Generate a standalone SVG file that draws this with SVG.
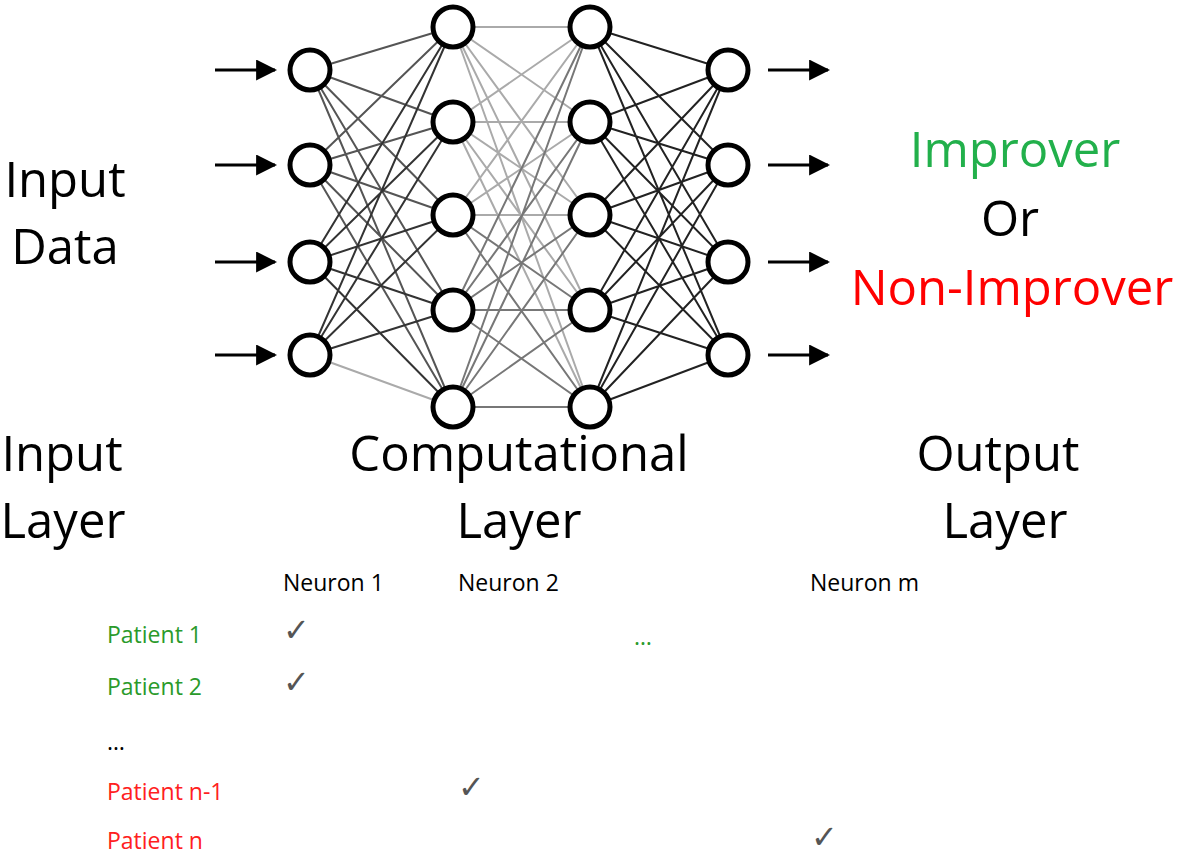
<svg xmlns="http://www.w3.org/2000/svg" width="1182" height="856" viewBox="0 0 1182 856">
<style>
.n{fill:#fff;stroke:#000;stroke-width:5}
.t{font-family:"Open Sans","Liberation Sans",sans-serif;font-size:49px}
.s{font-family:"Open Sans","Liberation Sans",sans-serif;font-size:23px}
.ck{font-family:"DejaVu Sans",sans-serif;font-size:32px;fill:#555;font-weight:bold}
.e{fill:none;stroke-width:2}
.ar{stroke:#000;stroke-width:3;marker-end:url(#a)}
</style>
<defs><marker id="a" viewBox="0 0 10 10" refX="9" refY="5" markerWidth="7" markerHeight="7" orient="auto"><path d="M0 0L10 5L0 10z"/></marker></defs>
<rect width="1182" height="856" fill="#fff"/>
<g id="connectors">
<path class="e" stroke="#555" d="M310 70L453 27M310 70L453 122M310 70L453 215M310 70L453 310M310 70L453 407M310 165L453 27M310 165L453 122M310 165L453 215M310 165L453 310M310 165L453 407"/>
<path class="e" stroke="#333" d="M310 262L453 27M310 262L453 122M310 262L453 215M310 262L453 310M310 262L453 407M310 355L453 27M310 355L453 122M310 355L453 215M310 355L453 310"/>
<path class="e" stroke="#aaa" d="M310 355L453 407M453 27L590 27M453 27L590 122M453 27L590 215M453 27L590 310M453 27L590 407M453 122L590 27M453 122L590 122M453 122L590 215M453 122L590 310M453 122L590 407M453 215L590 27M453 215L590 122M453 215L590 215"/>
<path class="e" stroke="#777" d="M453 215L590 310M453 215L590 407M453 310L590 27M453 310L590 122M453 310L590 215M453 310L590 310M453 310L590 407M453 407L590 27M453 407L590 122M453 407L590 215M453 407L590 310M453 407L590 407"/>
<path class="e" stroke="#222" d="M590 27L728 70M590 27L728 165M590 27L728 262M590 27L728 355M590 122L728 70M590 122L728 165M590 122L728 262M590 122L728 355M590 215L728 70M590 215L728 165M590 215L728 262M590 215L728 355M590 310L728 70M590 310L728 165M590 310L728 262M590 310L728 355M590 407L728 70M590 407L728 165M590 407L728 262M590 407L728 355"/>
<line class="ar" x1="215" y1="70" x2="275" y2="70"/><line class="ar" x1="215" y1="165" x2="275" y2="165"/>
<line class="ar" x1="215" y1="262" x2="275" y2="262"/><line class="ar" x1="215" y1="355" x2="275" y2="355"/>
<line class="ar" x1="768" y1="70" x2="828" y2="70"/><line class="ar" x1="768" y1="165" x2="828" y2="165"/>
<line class="ar" x1="768" y1="262" x2="828" y2="262"/><line class="ar" x1="768" y1="355" x2="828" y2="355"/>
</g>
<g id="in1"><circle class="n" cx="310" cy="70" r="20"/></g>
<g id="in2"><circle class="n" cx="310" cy="165" r="20"/></g>
<g id="in3"><circle class="n" cx="310" cy="262" r="20"/></g>
<g id="in4"><circle class="n" cx="310" cy="355" r="20"/></g>
<g id="h1a"><circle class="n" cx="453" cy="27" r="20"/></g>
<g id="h1b"><circle class="n" cx="453" cy="122" r="20"/></g>
<g id="h1c"><circle class="n" cx="453" cy="215" r="20"/></g>
<g id="h1d"><circle class="n" cx="453" cy="310" r="20"/></g>
<g id="h1e"><circle class="n" cx="453" cy="407" r="20"/></g>
<g id="h2a"><circle class="n" cx="590" cy="27" r="20"/></g>
<g id="h2b"><circle class="n" cx="590" cy="122" r="20"/></g>
<g id="h2c"><circle class="n" cx="590" cy="215" r="20"/></g>
<g id="h2d"><circle class="n" cx="590" cy="310" r="20"/></g>
<g id="h2e"><circle class="n" cx="590" cy="407" r="20"/></g>
<g id="o1"><circle class="n" cx="728" cy="70" r="20"/></g>
<g id="o2"><circle class="n" cx="728" cy="165" r="20"/></g>
<g id="o3"><circle class="n" cx="728" cy="262" r="20"/></g>
<g id="o4"><circle class="n" cx="728" cy="355" r="20"/></g>
<g id="labels" text-anchor="middle">
<text class="t" x="65" y="197">Input</text><text class="t" x="65" y="264">Data</text>
<text class="t" x="62" y="471">Input</text><text class="t" x="63" y="538">Layer</text>
<text class="t" x="519" y="471">Computational</text><text class="t" x="519" y="538">Layer</text>
<text class="t" x="998" y="471">Output</text><text class="t" x="1005" y="538">Layer</text>
<text class="t" x="1015" y="167" fill="#22b04b">Improver</text>
<text class="t" x="1010" y="236">Or</text>
<text class="t" x="1012" y="305" fill="#ff0000">Non-Improver</text>
</g>
<g id="table">
<text class="s" x="283" y="591">Neuron 1</text><text class="s" x="458" y="591">Neuron 2</text><text class="s" x="810" y="591">Neuron m</text>
<text class="s" x="107" y="643" fill="#2a9a2a">Patient 1</text>
<text class="s" x="107" y="695" fill="#2a9a2a">Patient 2</text>
<text class="s" x="107" y="750">…</text>
<text class="s" x="107" y="800" fill="#ff2020">Patient n-1</text>
<text class="s" x="107" y="849" fill="#ff2020">Patient n</text>
<text class="s" x="634" y="645" fill="#2a9a2a">…</text>
<text class="ck" x="283" y="641">✓</text><text class="ck" x="283" y="693">✓</text>
<text class="ck" x="458" y="798">✓</text><text class="ck" x="811" y="848">✓</text>
</g>
</svg>
